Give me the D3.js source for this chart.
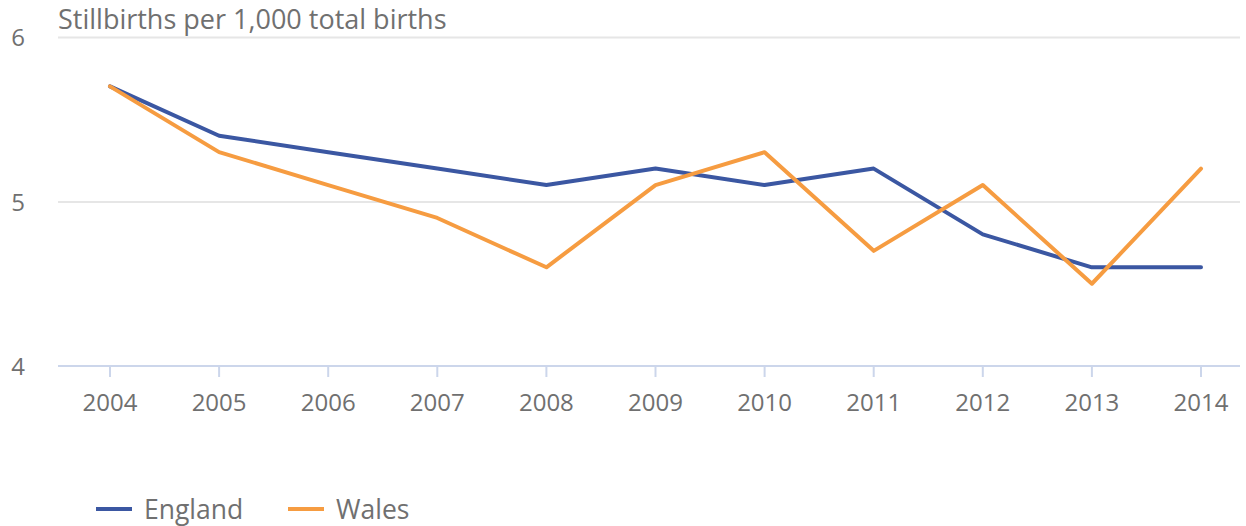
<!DOCTYPE html>
<html lang="en">
  <head>
    <meta charset="UTF-8" />
    <script src="https://d3js.org/d3.v7.min.js"></script>
    <title>Stillbirths</title>
    <style>
      body { margin: 0; background: #fff; }
      text { font-family: "Open Sans", sans-serif; fill: #707070; }
    </style>
  </head>
  <body>
    <div id="chart"></div>
    <script>
    // data
    var years = ["2004","2005","2006","2007","2008","2009","2010","2011","2012","2013","2014"];
    var england = [5.7, 5.4, 5.3, 5.2, 5.1, 5.2, 5.1, 5.2, 4.8, 4.6, 4.6];
    var wales   = [5.7, 5.3, 5.1, 4.9, 4.6, 5.1, 5.3, 4.7, 5.1, 4.5, 5.2];
    var yTicks  = [4, 5, 6];
    var seriesNames  = ["England", "Wales"];
    var seriesColors = ["#3b57a2", "#f69c41"];

    var W = 1246, H = 526;
    var plotLeft = 58, plotRight = 1240;

    var svg = d3.select("#chart").append("svg")
        .attr("width", W)
        .attr("height", H);

    var x = d3.scalePoint()
        .domain(years)
        .range([110, 1201]);

    var y = d3.scaleLinear()
        .domain([4, 6])
        .range([366, 37]);

    // gridlines
    svg.append("g")
      .selectAll("line")
      .data(yTicks.filter(function(d) { return d !== 4; }))
      .enter().append("line")
        .attr("x1", plotLeft)
        .attr("x2", plotRight)
        .attr("y1", function(d) { return y(d) + 0.5; })
        .attr("y2", function(d) { return y(d) + 0.5; })
        .attr("stroke", "#e6e6e6")
        .attr("stroke-width", 2);

    // y labels
    svg.append("g")
      .selectAll("text")
      .data(yTicks)
      .enter().append("text")
        .attr("x", 25)
        .attr("y", function(d) { return y(d) + 9; })
        .attr("text-anchor", "end")
        .style("font-size", "24px")
        .text(function(d) { return d; });

    // x axis
    var xAxis = svg.append("g")
        .attr("transform", "translate(0," + y(4) + ")");
    xAxis.append("line")
        .attr("x1", plotLeft).attr("x2", plotRight)
        .attr("stroke", "#ccd6eb").attr("stroke-width", 2);
    xAxis.selectAll(".tick")
      .data(years)
      .enter().append("line")
        .attr("x1", function(d) { return x(d); })
        .attr("x2", function(d) { return x(d); })
        .attr("y1", 0).attr("y2", 11)
        .attr("stroke", "#ccd6eb").attr("stroke-width", 2);
    xAxis.selectAll("text")
      .data(years)
      .enter().append("text")
        .attr("x", function(d) { return x(d); })
        .attr("y", 45)
        .attr("text-anchor", "middle")
        .style("font-size", "24px")
        .text(function(d) { return d; });

    // title
    svg.append("text")
        .attr("x", plotLeft)
        .attr("y", 29)
        .style("font-size", "27px")
        .text("Stillbirths per 1,000 total births");

    // lines
    var line = d3.line()
        .x(function(d, i) { return x(years[i]); })
        .y(function(d) { return y(d); });

    [england, wales].forEach(function(s, i) {
      svg.append("path")
        .datum(s)
        .attr("fill", "none")
        .attr("stroke", seriesColors[i])
        .attr("stroke-width", 4)
        .attr("stroke-linecap", "round")
        .attr("stroke-linejoin", "round")
        .attr("d", line);
    });

    // legend
    var legendX = [96, 288];
    var legend = svg.append("g");
    seriesNames.forEach(function(n, i) {
      legend.append("line")
        .attr("x1", legendX[i]).attr("x2", legendX[i] + 36)
        .attr("y1", 509).attr("y2", 509)
        .attr("stroke", seriesColors[i])
        .attr("stroke-width", 4);
      legend.append("text")
        .attr("x", legendX[i] + 48)
        .attr("y", 519)
        .style("font-size", "26.5px")
        .text(n);
    });
    </script>
  </body>
</html>
